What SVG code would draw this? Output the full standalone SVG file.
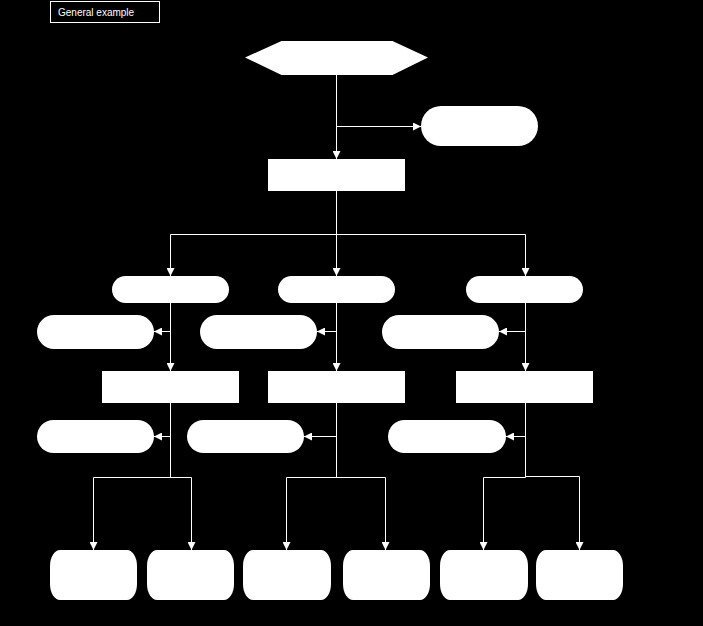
<svg xmlns="http://www.w3.org/2000/svg" width="703" height="626" viewBox="0 0 703 626">
<style>
.n{fill:#fff;stroke:none}
.c{fill:none;stroke:#fff;stroke-width:1}
.t{font-family:"Liberation Sans",Arial,sans-serif;font-size:10px;fill:#fff}
.o{fill:#fff;stroke:none}
</style>
<defs>
<marker id="ah" markerUnits="userSpaceOnUse" markerWidth="8" markerHeight="8" refX="8" refY="4" orient="auto">
<path d="M0,0 L8,4 L0,8 z" fill="#fff"/>
</marker>
</defs>
<rect width="703" height="626" fill="#000"/>
<g id="title">
<rect x="50.5" y="1.5" width="109" height="21" fill="none" stroke="#fff" stroke-width="1"/>
<text class="t" x="58" y="16">General example</text>
</g>
<g id="start"><polygon class="n" points="245,57.5 281.5,41 392.5,41 428,57.5 392.5,75 281.5,75"/></g>
<g id="term0"><rect class="n" x="421" y="106" width="117" height="40" rx="20"/></g>
<g id="proc0"><rect class="n" x="268" y="159" width="137" height="32"/></g>
<g id="ovA1"><rect class="n" x="112" y="276" width="117" height="27" rx="13.5"/></g>
<g id="ovA2"><rect class="n" x="278" y="276" width="117" height="27" rx="13.5"/></g>
<g id="ovA3"><rect class="n" x="466" y="276" width="117" height="27" rx="13.5"/></g>
<g id="ovB1"><rect class="n" x="37" y="315" width="117" height="34" rx="17"/></g>
<g id="ovB2"><rect class="n" x="200" y="315" width="117" height="34" rx="17"/></g>
<g id="ovB3"><rect class="n" x="382" y="315" width="117" height="34" rx="17"/></g>
<g id="proc1"><rect class="n" x="102" y="371" width="137" height="32"/></g>
<g id="proc2"><rect class="n" x="268" y="371" width="137" height="32"/></g>
<g id="proc3"><rect class="n" x="456" y="371" width="137" height="32"/></g>
<g id="ovC1"><rect class="n" x="37" y="420" width="117" height="33" rx="16.5"/></g>
<g id="ovC2"><rect class="n" x="187" y="420" width="117" height="33" rx="16.5"/></g>
<g id="ovC3"><rect class="n" x="388" y="420" width="118" height="33" rx="16.5"/></g>
<g id="out1"><rect class="o" x="50" y="550" width="87" height="50" rx="10" ry="16"/></g>
<g id="out2"><rect class="o" x="147" y="550" width="87" height="50" rx="10" ry="16"/></g>
<g id="out3"><rect class="o" x="243" y="550" width="88" height="50" rx="10" ry="16"/></g>
<g id="out4"><rect class="o" x="343" y="550" width="87" height="50" rx="10" ry="16"/></g>
<g id="out5"><rect class="o" x="440" y="550" width="88" height="50" rx="10" ry="16"/></g>
<g id="out6"><rect class="o" x="536" y="550" width="87" height="50" rx="10" ry="16"/></g>
<g id="connectors">
<path class="c" d="M336.5,75 V159" marker-end="url(#ah)"/>
<path class="c" d="M336.5,126.5 H421" marker-end="url(#ah)"/>
<path class="c" d="M336.5,191 V234.5"/>
<path class="c" d="M170.5,234.5 H525.5"/>
<path class="c" d="M170.5,234.5 V276" marker-end="url(#ah)"/>
<path class="c" d="M336.5,234.5 V276" marker-end="url(#ah)"/>
<path class="c" d="M525.5,234.5 V276" marker-end="url(#ah)"/>
<path class="c" d="M170.5,303 V371" marker-end="url(#ah)"/>
<path class="c" d="M336.5,303 V371" marker-end="url(#ah)"/>
<path class="c" d="M525.5,303 V371" marker-end="url(#ah)"/>
<path class="c" d="M170.5,331.5 H154" marker-end="url(#ah)"/>
<path class="c" d="M336.5,331.5 H317" marker-end="url(#ah)"/>
<path class="c" d="M525.5,331.5 H499" marker-end="url(#ah)"/>
<path class="c" d="M170.5,403 V477.5"/>
<path class="c" d="M336.5,403 V477.5"/>
<path class="c" d="M525.5,403 V477.5"/>
<path class="c" d="M170.5,436.5 H154" marker-end="url(#ah)"/>
<path class="c" d="M336.5,436.5 H304" marker-end="url(#ah)"/>
<path class="c" d="M525.5,436.5 H506" marker-end="url(#ah)"/>
<path class="c" d="M93.5,477.5 H191.5"/>
<path class="c" d="M286.5,477.5 H385.5"/>
<path class="c" d="M483.5,477.5 H525.5"/>
<path class="c" d="M525.5,476.5 H579.5"/>
<path class="c" d="M93.5,477.5 V550" marker-end="url(#ah)"/>
<path class="c" d="M191.5,477.5 V550" marker-end="url(#ah)"/>
<path class="c" d="M286.5,477.5 V550" marker-end="url(#ah)"/>
<path class="c" d="M385.5,477.5 V550" marker-end="url(#ah)"/>
<path class="c" d="M483.5,477.5 V550" marker-end="url(#ah)"/>
<path class="c" d="M579.5,476.5 V550" marker-end="url(#ah)"/>
</g>
</svg>
